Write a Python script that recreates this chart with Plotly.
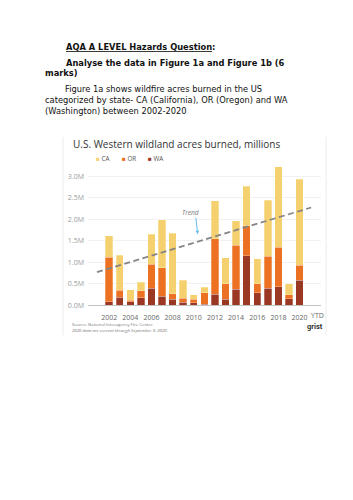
import plotly.graph_objects as go

# ---------------- data ----------------
years = list(range(2002, 2021))
ca = [0.50, 0.81, 0.245, 0.20, 0.69, 1.11, 1.405, 0.415, 0.11, 0.13, 0.89, 0.60, 0.57, 0.91, 0.58, 1.30, 1.87, 0.255, 2.00]
or_ = [1.03, 0.16, 0.035, 0.165, 0.555, 0.66, 0.13, 0.085, 0.08, 0.27, 1.29, 0.36, 1.015, 0.70, 0.215, 0.74, 0.91, 0.09, 0.355]
wa = [0.08, 0.19, 0.08, 0.17, 0.40, 0.21, 0.14, 0.075, 0.055, 0.02, 0.25, 0.14, 0.375, 1.15, 0.285, 0.395, 0.435, 0.155, 0.575]
series_names = ["CA", "OR", "WA"]
series_colors = ["#F5D06E", "#EC7122", "#9A3824"]
trend_x = [2000.85, 2021.1]
trend_y = [0.77, 2.27]
x_tick_vals = [2002, 2004, 2006, 2008, 2010, 2012, 2014, 2016, 2018, 2020]
x_tick_labels = ["2002", "2004", "2006", "2008", "2010", "2012", "2014", "2016", "2018", "2020"]
last_tick_suffix = "YTD"
y_tick_vals = [0, 0.5, 1.0, 1.5, 2.0, 2.5, 3.0]
y_tick_labels = ["0.0M", "0.5M", "1.0M", "1.5M", "2.0M", "2.5M", "3.0M"]

doc_lines = [
    ("<b><u>AQA A LEVEL Hazards Question</u>:</b>", 64.3, 47.7),
    ("<b>Analyse the data in Figure 1a and Figure 1b (6</b>", 64.3, 63.3),
    ("<b>marks)</b>", 42.7, 74.0),
    ("Figure 1a shows wildfire acres burned in the US", 63.3, 90.0),
    ("categorized by state- CA (California), OR (Oregon) and WA", 42.7, 100.7),
    ("(Washington) between 2002-2020", 42.7, 111.7),
]

W, H = 353, 500
def px(x):
    return x / W
def py(y):
    return 1 - y / H

fig = go.Figure()
for name, vals, col in zip(["WA", "OR", "CA"], [wa, or_, ca],
                           [series_colors[2], series_colors[1], series_colors[0]]):
    fig.add_trace(go.Bar(x=years, y=vals, name=name, width=0.7,
                         marker=dict(color=col, line=dict(color="rgba(255,255,255,0.55)", width=0.5)),
                         showlegend=False))

fig.add_trace(go.Scatter(x=trend_x, y=trend_y, mode="lines",
                         line=dict(color="#858585", width=1.8, dash="6px,3.5px"),
                         showlegend=False))

fig.update_layout(
    width=W, height=H, autosize=False,
    margin=dict(l=0, r=0, t=0, b=0),
    paper_bgcolor="white", plot_bgcolor="white",
    barmode="stack", bargap=0.3,
    font=dict(family="Open Sans", color="#666"),
    xaxis=dict(domain=[px(88), px(320.7)], range=[2000, 2022],
               tickvals=x_tick_vals, ticktext=x_tick_labels, tickangle=0,
               tickfont=dict(size=7, color="#666", family="Open Sans"),
               showgrid=False, zeroline=False, showline=True, linecolor="#c4c4c4", linewidth=1,
               ticks="", ticklabelstandoff=5, fixedrange=True),
    yaxis=dict(domain=[py(307.7), py(307.7 - 3.3 * 43.4)], range=[0, 3.3],
               tickvals=y_tick_vals, ticktext=y_tick_labels,
               tickfont=dict(size=7, color="#9a9a9a", family="Open Sans"),
               showgrid=True, gridcolor="#f1f1f1", gridwidth=1, zeroline=False,
               ticks="", ticklabelstandoff=3, fixedrange=True),
)

annotations = []
for text, x, y in doc_lines:
    annotations.append(dict(text=text, x=px(x), y=py(y), xref="paper", yref="paper",
                            xanchor="left", yanchor="middle", showarrow=False,
                            font=dict(family="DejaVu Sans", size=8.3, color="#111")))

annotations.append(dict(text="U.S. Western wildland acres burned, millions", x=px(70.5), y=py(145),
                        xref="paper", yref="paper", xanchor="left", yanchor="middle", showarrow=False,
                        font=dict(family="Open Sans", size=10, color="#333")))

# legend
for i, (name, col) in enumerate(zip(series_names, series_colors)):
    annotations.append(dict(text=f"<span style='color:{col}'>■</span> {name}",
                            x=px(93.5 + 26.2 * i), y=py(159.3), xref="paper", yref="paper",
                            xanchor="left", yanchor="middle", showarrow=False,
                            font=dict(family="Open Sans", size=6.3, color="#555")))

# "YTD" suffix after the last tick label
annotations.append(dict(text=last_tick_suffix, x=x_tick_vals[-1], y=py(318.4), xref="x", yref="paper",
                        xanchor="left", yanchor="middle", xshift=9.3, showarrow=False,
                        font=dict(family="Open Sans", size=7, color="#666")))

annotations.append(dict(text="<i>Trend</i>", x=2009.66, y=2.15, xref="x", yref="y",
                        showarrow=False, font=dict(family="Open Sans", size=6.5, color="#777")))
annotations.append(dict(text="", x=2010.37, y=1.65, xref="x", yref="y",
                        showarrow=True, ax=-2, ay=-18, arrowhead=2, arrowsize=0.7,
                        arrowwidth=1, arrowcolor="#62BDEE"))

annotations.append(dict(text="Source: National Interagency Fire Center", x=px(70), y=py(326.7),
                        xref="paper", yref="paper", xanchor="left", yanchor="middle", showarrow=False,
                        font=dict(family="Open Sans", size=4.3, color="#777")))
annotations.append(dict(text="<i>2020 data are current through September 9, 2020.</i>", x=px(70), y=py(332.7),
                        xref="paper", yref="paper", xanchor="left", yanchor="middle", showarrow=False,
                        font=dict(family="Open Sans", size=4.3, color="#777")))
annotations.append(dict(text="<b>grist</b>", x=px(314.5), y=py(329.5),
                        xref="paper", yref="paper", xanchor="center", yanchor="middle", showarrow=False,
                        font=dict(family="Roboto", size=7.5, color="#333")))
fig.update_layout(annotations=annotations)

# card edges
fig.add_shape(type="line", xref="paper", yref="paper", x0=px(63), x1=px(63), y0=py(138), y1=py(338),
              line=dict(color="#ececec", width=1))
fig.add_shape(type="line", xref="paper", yref="paper", x0=px(326), x1=px(326), y0=py(138), y1=py(338),
              line=dict(color="#ececec", width=1))

fig.write_html("out.html")
